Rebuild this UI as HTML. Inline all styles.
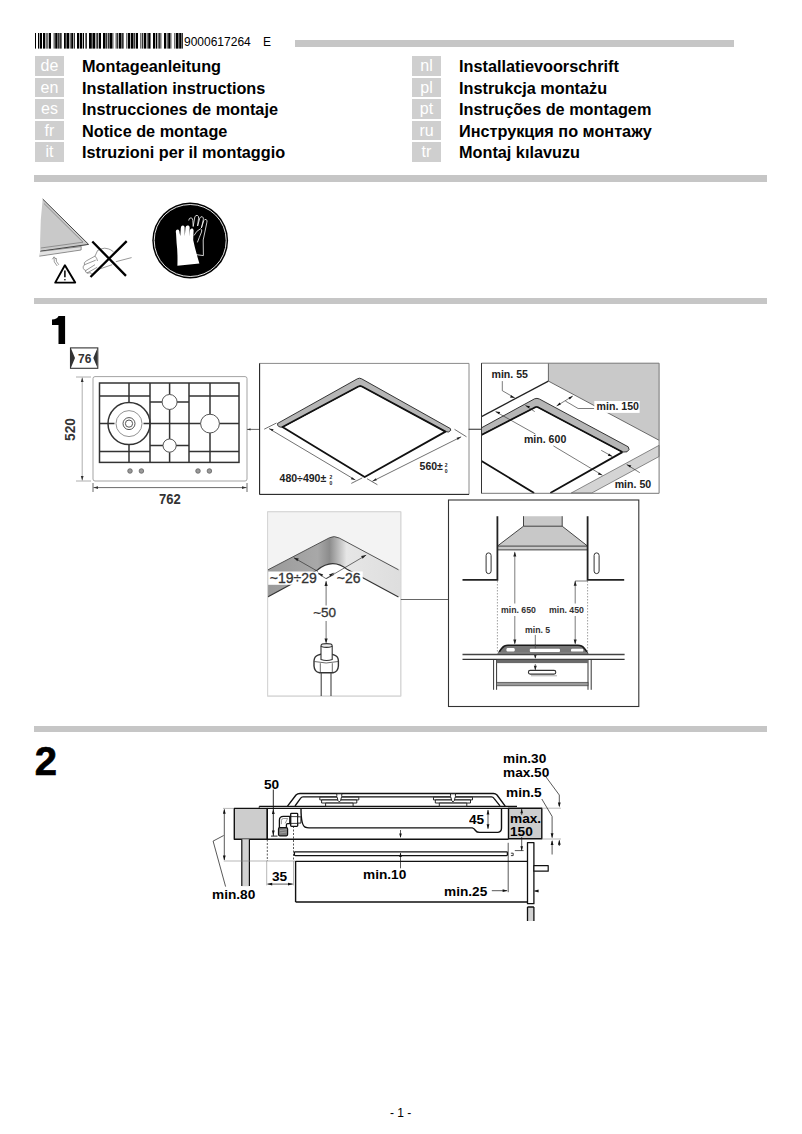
<!DOCTYPE html>
<html><head><meta charset="utf-8">
<style>
html,body{margin:0;padding:0;background:#fff;}
body{width:802px;height:1134px;position:relative;overflow:hidden;font-family:"Liberation Sans",sans-serif;color:#000;}
.a{position:absolute;white-space:nowrap;line-height:1;z-index:2;}
.rule{position:absolute;background:#c6c6c6;}
.lc{position:absolute;z-index:2;width:29px;height:19.5px;background:#cfcfcf;color:#fff;font-size:16px;line-height:19px;text-align:center;}
.lt{position:absolute;z-index:2;font-size:16.25px;font-weight:bold;line-height:1;white-space:nowrap;}
svg{position:absolute;left:0;top:0;}
.s2{font-size:13px;font-weight:bold;transform:scaleX(1.05);transform-origin:0 0;}
</style></head><body>
<div class="rule" style="left:295px;top:40px;width:439px;height:6.7px"></div>
<div class="a" style="left:184px;top:35.7px;font-size:12px">9000617264</div>
<div class="a" style="left:263px;top:35.7px;font-size:12px">E</div>

<div class="lc" style="left:35px;top:56px">de</div>
<div class="lc" style="left:35px;top:77.5px">en</div>
<div class="lc" style="left:35px;top:99px">es</div>
<div class="lc" style="left:35px;top:120.5px">fr</div>
<div class="lc" style="left:35px;top:142px">it</div>
<div class="lt" style="left:82px;top:58px">Montageanleitung</div>
<div class="lt" style="left:82px;top:79.5px">Installation instructions</div>
<div class="lt" style="left:82px;top:101px">Instrucciones de montaje</div>
<div class="lt" style="left:82px;top:122.5px">Notice de montage</div>
<div class="lt" style="left:82px;top:144px">Istruzioni per il montaggio</div>

<div class="lc" style="left:412px;top:56px">nl</div>
<div class="lc" style="left:412px;top:77.5px">pl</div>
<div class="lc" style="left:412px;top:99px">pt</div>
<div class="lc" style="left:412px;top:120.5px">ru</div>
<div class="lc" style="left:412px;top:142px">tr</div>
<div class="lt" style="left:459px;top:58px">Installatievoorschrift</div>
<div class="lt" style="left:459px;top:79.5px">Instrukcja montażu</div>
<div class="lt" style="left:459px;top:101px">Instruções de montagem</div>
<div class="lt" style="left:459px;top:122.5px">Инструкция по монтажу</div>
<div class="lt" style="left:459px;top:144px">Montaj kılavuzu</div>

<div class="rule" style="left:34px;top:175px;width:733px;height:6.6px"></div>
<div class="rule" style="left:34px;top:297.5px;width:733px;height:6.3px"></div>
<div class="rule" style="left:34px;top:726px;width:733px;height:6px"></div>


<div class="a" style="left:34.8px;top:741.3px;font-size:40px;font-weight:bold;-webkit-text-stroke:0.7px #000">2</div>
<div class="a" style="left:390px;top:1107px;font-size:12px">- 1 -</div>
<div class="a s2" style="left:264.3px;top:778px">50</div>
<div class="a s2" style="left:212px;top:887.5px">min.80</div>
<div class="a s2" style="left:272.4px;top:869.5px">35</div>
<div class="a s2" style="left:362.5px;top:868px">min.10</div>
<div class="a s2" style="left:444.2px;top:884.5px">min.25</div>
<div class="a s2" style="left:468.8px;top:813px">45</div>
<div class="a s2" style="left:509.5px;top:812.4px">max.</div>
<div class="a s2" style="left:509.5px;top:824.9px">150</div>
<div class="a s2" style="left:502.5px;top:752px">min.30</div>
<div class="a s2" style="left:502.5px;top:765.5px">max.50</div>
<div class="a s2" style="left:505.7px;top:786px">min.5</div>

<div class="a" style="left:269.8px;top:571.2px;font-size:14px;color:#333;-webkit-text-stroke:0.3px #333">~19÷29</div>
<div class="a" style="left:336.8px;top:571.2px;font-size:14px;color:#333;-webkit-text-stroke:0.3px #333">~26</div>
<div class="a" style="left:313.2px;top:606px;font-size:13.5px;color:#333;-webkit-text-stroke:0.3px #333">~50</div>
<div class="a" style="left:501px;top:605.1px;font-size:9.6px;font-weight:bold;color:#333;transform:scaleX(0.91);transform-origin:0 0">min. 650</div>
<div class="a" style="left:548.5px;top:605.1px;font-size:9.6px;font-weight:bold;color:#333;transform:scaleX(0.91);transform-origin:0 0">min. 450</div>
<div class="a" style="left:525.2px;top:625.3px;font-size:9.6px;font-weight:bold;color:#333;transform:scaleX(0.91);transform-origin:0 0">min. 5</div>
<div class="a" style="left:491.5px;top:369.3px;font-size:10.6px;font-weight:bold;color:#222">min. 55</div>
<div class="a" style="left:596.6px;top:401.3px;font-size:10.6px;font-weight:bold;color:#222">min. 150</div>
<div class="a" style="left:523.9px;top:433.5px;font-size:10.6px;font-weight:bold;color:#222">min. 600</div>
<div class="a" style="left:614.7px;top:479.1px;font-size:10.6px;font-weight:bold;color:#222">min. 50</div>
<div class="a" style="left:279.6px;top:473.2px;font-size:10.5px;font-weight:bold;color:#222">480÷490±</div>
<div class="a" style="left:329.5px;top:475.2px;font-size:5px;font-weight:bold;color:#222">2</div>
<div class="a" style="left:329.5px;top:481.2px;font-size:5px;font-weight:bold;color:#222">0</div>
<div class="a" style="left:419.6px;top:461.4px;font-size:10.5px;font-weight:bold;color:#222">560±</div>
<div class="a" style="left:444.8px;top:463.2px;font-size:5px;font-weight:bold;color:#222">2</div>
<div class="a" style="left:444.8px;top:469.2px;font-size:5px;font-weight:bold;color:#222">0</div>
<div class="a" style="left:78px;top:353px;font-size:12px;font-weight:bold;color:#333">76</div>
<div class="a" style="left:158.5px;top:492px;font-size:14px;font-weight:bold;color:#333;transform:scaleX(0.93);transform-origin:0 0">762</div>
<div class="a" style="left:63px;top:440.5px;font-size:14.5px;font-weight:bold;color:#333;transform:rotate(-90deg) scaleX(0.95);transform-origin:0 0">520</div>

<svg width="802" height="1134" viewBox="0 0 802 1134">
<!-- barcode -->
<g id="barcode" fill="#000"><rect x="35" y="33" width="1" height="15.6" opacity="1"/><rect x="38" y="33" width="1" height="15.6" opacity="1"/><rect x="39" y="33" width="1" height="15.6" opacity="0.3"/><rect x="40" y="33" width="2" height="15.6" opacity="1"/><rect x="43" y="33" width="2" height="15.6" opacity="1"/><rect x="45" y="33" width="1" height="15.6" opacity="0.3"/><rect x="46" y="33" width="2" height="15.6" opacity="0.55"/><rect x="48" y="33" width="1" height="15.6" opacity="0.3"/><rect x="49" y="33" width="2" height="15.6" opacity="1"/><rect x="53" y="33" width="1" height="15.6" opacity="0.3"/><rect x="54" y="33" width="1" height="15.6" opacity="0.55"/><rect x="55" y="33" width="1" height="15.6" opacity="0.8"/><rect x="56" y="33" width="1" height="15.6" opacity="1"/><rect x="57" y="33" width="1" height="15.6" opacity="0.55"/><rect x="58" y="33" width="1" height="15.6" opacity="0.8"/><rect x="59" y="33" width="1" height="15.6" opacity="0.55"/><rect x="60" y="33" width="1" height="15.6" opacity="0.8"/><rect x="61" y="33" width="1" height="15.6" opacity="0.55"/><rect x="64" y="33" width="1" height="15.6" opacity="1"/><rect x="65" y="33" width="1" height="15.6" opacity="0.8"/><rect x="66" y="33" width="1" height="15.6" opacity="0.55"/><rect x="67" y="33" width="2" height="15.6" opacity="1"/><rect x="69" y="33" width="1" height="15.6" opacity="0.3"/><rect x="70" y="33" width="1" height="15.6" opacity="0.55"/><rect x="71" y="33" width="1" height="15.6" opacity="0.8"/><rect x="72" y="33" width="1" height="15.6" opacity="1"/><rect x="73" y="33" width="1" height="15.6" opacity="0.3"/><rect x="74" y="33" width="1" height="15.6" opacity="0.8"/><rect x="77" y="33" width="2" height="15.6" opacity="1"/><rect x="79" y="33" width="1" height="15.6" opacity="0.3"/><rect x="80" y="33" width="2" height="15.6" opacity="1"/><rect x="82" y="33" width="1" height="15.6" opacity="0.3"/><rect x="83" y="33" width="1" height="15.6" opacity="1"/><rect x="85" y="33" width="1" height="15.6" opacity="0.55"/><rect x="86" y="33" width="1" height="15.6" opacity="0.8"/><rect x="89" y="33" width="2" height="15.6" opacity="1"/><rect x="91" y="33" width="1" height="15.6" opacity="0.8"/><rect x="92" y="33" width="1" height="15.6" opacity="0.55"/><rect x="93" y="33" width="2" height="15.6" opacity="1"/><rect x="95" y="33" width="1" height="15.6" opacity="0.3"/><rect x="96" y="33" width="1" height="15.6" opacity="0.55"/><rect x="97" y="33" width="1" height="15.6" opacity="0.8"/><rect x="98" y="33" width="1" height="15.6" opacity="0.3"/><rect x="99" y="33" width="2" height="15.6" opacity="1"/><rect x="103" y="33" width="2" height="15.6" opacity="1"/><rect x="105" y="33" width="1" height="15.6" opacity="0.55"/><rect x="106" y="33" width="1" height="15.6" opacity="0.8"/><rect x="107" y="33" width="1" height="15.6" opacity="0.3"/><rect x="108" y="33" width="1" height="15.6" opacity="0.8"/><rect x="109" y="33" width="1" height="15.6" opacity="0.55"/><rect x="110" y="33" width="2" height="15.6" opacity="1"/><rect x="112" y="33" width="1" height="15.6" opacity="0.55"/><rect x="113" y="33" width="1" height="15.6" opacity="0.3"/><rect x="115" y="33" width="1" height="15.6" opacity="0.3"/><rect x="116" y="33" width="1" height="15.6" opacity="0.55"/><rect x="117" y="33" width="1" height="15.6" opacity="0.8"/><rect x="118" y="33" width="1" height="15.6" opacity="0.3"/><rect x="119" y="33" width="2" height="15.6" opacity="1"/><rect x="121" y="33" width="1" height="15.6" opacity="0.55"/><rect x="122" y="33" width="1" height="15.6" opacity="0.8"/><rect x="123" y="33" width="1" height="15.6" opacity="0.55"/><rect x="126" y="33" width="1" height="15.6" opacity="0.55"/><rect x="127" y="33" width="1" height="15.6" opacity="0.3"/><rect x="128" y="33" width="2" height="15.6" opacity="1"/><rect x="130" y="33" width="1" height="15.6" opacity="0.3"/><rect x="131" y="33" width="2" height="15.6" opacity="1"/><rect x="133" y="33" width="1" height="15.6" opacity="0.55"/><rect x="134" y="33" width="1" height="15.6" opacity="0.8"/><rect x="135" y="33" width="1" height="15.6" opacity="0.3"/><rect x="136" y="33" width="2" height="15.6" opacity="1"/><rect x="140" y="33" width="1" height="15.6" opacity="0.55"/><rect x="141" y="33" width="1" height="15.6" opacity="0.3"/><rect x="142" y="33" width="1" height="15.6" opacity="0.8"/><rect x="143" y="33" width="1" height="15.6" opacity="0.3"/><rect x="144" y="33" width="2" height="15.6" opacity="1"/><rect x="146" y="33" width="1" height="15.6" opacity="0.3"/><rect x="147" y="33" width="1" height="15.6" opacity="0.55"/><rect x="148" y="33" width="1" height="15.6" opacity="0.8"/><rect x="149" y="33" width="1" height="15.6" opacity="1"/><rect x="150" y="33" width="1" height="15.6" opacity="0.55"/><rect x="153" y="33" width="2" height="15.6" opacity="1"/><rect x="155" y="33" width="1" height="15.6" opacity="0.3"/><rect x="156" y="33" width="1" height="15.6" opacity="1"/><rect x="157" y="33" width="1" height="15.6" opacity="0.3"/><rect x="158" y="33" width="1" height="15.6" opacity="0.55"/><rect x="159" y="33" width="1" height="15.6" opacity="0.8"/><rect x="160" y="33" width="1" height="15.6" opacity="0.55"/><rect x="161" y="33" width="1" height="15.6" opacity="0.3"/><rect x="164" y="33" width="2" height="15.6" opacity="1"/><rect x="166" y="33" width="1" height="15.6" opacity="0.3"/><rect x="167" y="33" width="1" height="15.6" opacity="0.55"/><rect x="168" y="33" width="1" height="15.6" opacity="0.8"/><rect x="169" y="33" width="1" height="15.6" opacity="1"/><rect x="170" y="33" width="1" height="15.6" opacity="0.55"/><rect x="171" y="33" width="1" height="15.6" opacity="0.3"/><rect x="174" y="33" width="1" height="15.6" opacity="0.55"/><rect x="175" y="33" width="1" height="15.6" opacity="0.3"/><rect x="176" y="33" width="2" height="15.6" opacity="1"/><rect x="178" y="33" width="1" height="15.6" opacity="0.55"/><rect x="179" y="33" width="1" height="15.6" opacity="0.8"/><rect x="180" y="33" width="1" height="15.6" opacity="1"/><rect x="181" y="33" width="1" height="15.6" opacity="0.55"/><rect x="182" y="33" width="1" height="15.6" opacity="0.8"/></g>

<!-- safety panel -->
<g id="safety">
<path d="M42.7,199 L88.6,244.4 L81.3,246.4 L81.1,250 L39.4,256.2 L40.2,251 Q39.5,225 42.7,199 Z" fill="#c9c9c9" stroke="none"/>
<path d="M42.7,199 L88.6,244.4 L40.6,251.2" fill="none" stroke="#333" stroke-width="0.9"/>
<path d="M44,203.5 L83,242.2 L40.8,248" fill="none" stroke="#666" stroke-width="0.6"/>
<path d="M40.2,251.4 L81.2,246.6 L81.1,250 L39.4,256.2" fill="#e2e2e2" stroke="#555" stroke-width="0.6"/>
<path d="M57.2,266 Q53,262 54,257.6 M52.3,259.3 L54.1,256.8 L56,259.1 M58.8,264.8 Q55.4,261.4 56.2,258" fill="none" stroke="#555" stroke-width="0.6"/>
<path d="M64.9,265.3 L55.2,282.6 L75.2,282.6 Z" fill="none" stroke="#000" stroke-width="1.9" stroke-linejoin="round"/>
<path d="M64.9,270.6 L64.9,277.2" stroke="#000" stroke-width="1.5"/>
<circle cx="64.9" cy="279.8" r="0.8" fill="#000"/>
<path d="M131.6,257.6 L115.9,261.7 M113.5,251.8 Q110.5,249.3 108.4,248.9 L104.7,248.2 Q100.5,248.6 97.6,250.5 L95,256.1 L86.5,260.8 Q83.3,262.6 84.4,264.8 Q82.3,267 83.4,268.6 Q83.9,270 85.8,270.5 Q84.8,272.3 87,273 Q88.5,273.4 90.4,272.6 Q90.8,274.5 93,274.2 L100.2,268.8 L112.2,264.7 M84.4,264.8 L95.7,260.2 M85.8,270.5 L95,264.7 M87,273 L97.2,267.3 M95,256.1 Q97,258 97.5,261" fill="none" stroke="#444" stroke-width="0.55"/>
<path d="M92.3,241.5 L126,275.9 M126.7,241.1 L90.5,277" stroke="#000" stroke-width="2.3"/>
<circle cx="190.2" cy="240.5" r="37.9" fill="#000"/>
<circle cx="190.2" cy="240.5" r="36" fill="none" stroke="#fff" stroke-width="0.9"/>
<path d="M176,233 Q175.2,229.8 177.7,229.6 Q179.5,229.8 179.6,233 L180.3,236 L180.8,228 Q181,225.4 183.2,225.6 Q185,226 184.6,228.5 L184.8,236 L185.5,227.5 Q186,225 188.4,225.6 Q190,226.3 189.6,228.8 L189.2,236.5 L189.9,230.2 Q190.6,227.8 192.6,228.6 Q194,229.5 193.5,232 L193.2,240 Q195,249 199.4,263.5 L177.4,265.7 Q177.8,252 176.6,243 Z" fill="#fff"/>
<path d="M188.7,220.5 Q189,217.8 191,217.8 Q192.8,218 192.8,220.5 L193.2,226.5 L194.8,217 Q195.6,214.8 197.6,215.5 Q199,216.3 198.5,218.6 L197.6,226 L199.8,218 Q200.7,216.2 202.4,216.8 Q203.8,217.6 203.3,219.8 L201.4,228 L203.8,220.6 Q204.8,218.8 206.3,219.6 Q207.6,220.6 206.8,222.8 L203.2,240 L203.4,255.6 L195.8,254.6 M194,235.5 Q196.5,230.5 200.5,228.8 Q202.5,229.4 201.5,232 Q199,238 197.4,242.4" fill="none" stroke="#fff" stroke-width="0.8" stroke-linejoin="round"/>
</g>


<!-- 76 badge -->
<path d="M58.5,316 H65.1 V344 H58.5 V325 H52 V319.6 Q57.2,319.4 58.5,316 Z" fill="#000"/>
<g id="badge">
<rect x="70.5" y="347.9" width="27.3" height="20.4" fill="#fff" stroke="#333" stroke-width="1.1"/>
<path d="M71,348.6 L75,358.1 L71,367.6 Z M97.3,348.6 L93.3,358.1 L97.3,367.6 Z" fill="#333"/>
</g>
<!-- hob top view -->
<g id="hob" fill="none">
<rect x="93" y="376.6" width="154" height="104.4" rx="2" stroke="#999" stroke-width="0.9"/>
<g stroke="#333" stroke-width="1.5">
<rect x="99.5" y="383" width="139.5" height="79.4"/>
<path d="M150,383 V462.4 M189,383 V462.4"/>
<path d="M99.5,396 H150 M189,396 H239 M99.5,451.6 H150 M189,451.6 H239"/>
<path d="M129,383 V402.6 M129,444.6 V462.4 M210,383 V414.2 M210,433 V462.4"/>
<path d="M99.5,423.6 H114.5 M143.5,423.6 H200.6 M219.4,423.6 H239"/>
<path d="M150,402 H162 M177,402 H189 M150,445.6 H163 M176,445.6 H189"/>
<path d="M169.6,383 V394.5 M169.6,409.5 V439 M169.6,452.2 V462.4"/>
<circle cx="129" cy="423.6" r="21"/>
</g>
<g stroke="#555" stroke-width="1">
<circle cx="169.6" cy="402" r="7.5"/>
<circle cx="169.6" cy="445.6" r="6.6"/>
<circle cx="210" cy="423.6" r="9.4"/>
<circle cx="129" cy="423.6" r="6"/>
<circle cx="129" cy="423.6" r="3.6"/>
</g>
<circle cx="129" cy="423.6" r="13" stroke="#888" stroke-width="0.9"/>
<g fill="#999" stroke="#555" stroke-width="0.7">
<circle cx="130" cy="471" r="2.3"/><circle cx="141.4" cy="471" r="2.3"/>
<circle cx="198" cy="471" r="2.3"/><circle cx="209.4" cy="471" r="2.3"/>
</g>
<!-- dims -->
<g stroke="#444" stroke-width="0.8">
<path d="M76,377 H91 M76,481 H91 M82.2,377.5 V480.5" stroke="#999"/>
<path d="M93,483 V492 M247,483 V492 M93.5,487.6 H246.5"/>
<path d="M247,429.4 H259.2"/>
</g>
<g fill="#333">
<path d="M82.2,377.5 L80.8,382 L83.6,382 Z M82.2,480.5 L80.8,476 L83.6,476 Z"/>
<path d="M93.5,487.6 L98,486.2 L98,489 Z M246.5,487.6 L242,486.2 L242,489 Z"/>
<path d="M247.5,429.4 L250.5,428.2 L250.5,430.6 Z"/>
</g>
</g>


<!-- box2 cutout -->
<g id="box2" fill="none">
<path d="M259.6,494.4 V363.4 H469 V494.4 Z" stroke="#8a8a8a" stroke-width="1"/>
<path d="M259.6,363.4 V494.4 H469" stroke="#222" stroke-width="1"/>
<path d="M277.6,423.4 L357.4,378.8 Q359.5,377.6 361.6,378.8 L450.4,428.6 Q452,430.5 448.5,432 L445.5,431.6 L360.2,385.6 L282.7,427.2 Q277,427.5 277.6,423.4 Z" fill="#b6b6b6" stroke="#222" stroke-width="0.9"/>
<path d="M282.5,427 L358.4,386.5 Q360.2,385.6 362,386.5 L445.5,431.6 L364.7,477 Z" stroke="#111" stroke-width="1.8" stroke-linejoin="round"/>
<g stroke="#333" stroke-width="0.7">
<path d="M264.2,429.2 L276.5,423 M351.3,483.4 L362.3,477.9 M269,428.6 L355.4,480"/>
<path d="M367,478.7 L377.4,484.7 M454.5,429.3 L466.5,436.8 M372.4,481.3 L461.2,436.8"/>
<path d="M469,429.3 H481"/>
</g>
<g fill="#222">
<path d="M269,428.6 L273.6,429.3 L272.4,431.3 Z M355.4,480 L350.8,479.3 L352,477.3 Z"/>
<path d="M372.4,481.3 L375.8,478.2 L376.9,480.3 Z M461.2,436.8 L457.7,439.9 L456.6,437.8 Z"/>
</g>
</g>


<!-- box3 distances -->
<g id="box3" fill="none">
<path d="M548.4,363.2 H659.1 V440.3 L548.4,381.1 Z" fill="#c9c9c9"/>
<path d="M659.1,445.3 L571.2,493 L591.8,493 L659.1,456.5 Z" fill="#d4d4d4" stroke="#444" stroke-width="0.6"/>
<path d="M548.4,363.2 V381.1 L659.1,440.3" stroke="#333" stroke-width="0.7"/>
<path d="M481.5,416.6 L548.4,381.1" stroke="#222" stroke-width="1.2"/>
<path d="M481.5,427.8 L534.6,398.8 Q537,397.8 539.4,399 L628.2,446.8 Q630.5,449.8 627,451.8 L622.4,452.1 L536.6,406.6 L481.5,434.7 Z" fill="#b6b6b6" stroke="#222" stroke-width="0.9"/>
<path d="M481.5,434.9 L534.8,407.4 Q536.6,406.6 538.4,407.4 L622.4,452.1" stroke="#111" stroke-width="1.7"/>
<path d="M481.5,460.9 L534.1,493 M550.3,493 L622.4,452.1" stroke="#111" stroke-width="1.8"/>
<g stroke="#222" stroke-width="0.6">
<path d="M502.3,381.1 V390.7 L514.8,397.9"/>
<path d="M495.5,411.6 L535.4,434 M553.4,445.9 L602.4,475.2"/>
<path d="M525.4,405.4 L534.7,411.6 M601.2,450.3 L612.4,456.5"/>
<path d="M556.6,406 L572.8,396 M565.3,401 L578.1,408.5 H594.3"/>
<path d="M639.8,472.7 L626.7,464.6"/>
</g>
<g fill="#111">
<path d="M514.8,397.9 L510,397.4 L511.2,395.2 Z"/>
<path d="M495.5,411.6 L500.2,412 L499,414.2 Z"/>
<path d="M525.4,405.4 L530,406.2 L528.7,408.3 Z"/>
<path d="M612.4,456.5 L607.8,455.8 L609,453.6 Z"/>
<path d="M602.4,475.2 L597.8,474.6 L599,472.4 Z"/>
<path d="M556.6,406 L559.6,402.5 L560.9,404.6 Z M572.8,396 L569.8,399.5 L568.5,397.4 Z"/>
<path d="M626.7,464.6 L631.3,465.5 L630,467.6 Z"/>
</g>
<rect x="594.3" y="401" width="45.3" height="11.9" fill="#fff"/>
<path d="M481.5,493.3 V363.2 H659.1 V493.3 Z" stroke="#777" stroke-width="1"/>
<path d="M481.5,363.2 V493.3" stroke="#333" stroke-width="1"/>
<path d="M468.5,429.3 H481.5" stroke="#444" stroke-width="0.8"/>
</g>


<!-- box4 corner -->
<defs>
<linearGradient id="g4" x1="268" y1="0" x2="399" y2="0" gradientUnits="userSpaceOnUse">
<stop offset="0" stop-color="#9a9a9a"/><stop offset="0.38" stop-color="#a8a8a8"/>
<stop offset="0.47" stop-color="#8c8c8c"/><stop offset="0.6" stop-color="#e6e6e6"/><stop offset="1" stop-color="#dedede"/>
</linearGradient>
</defs>
<g id="box4" fill="none">
<rect x="267.6" y="511.8" width="133.2" height="184.3" fill="#fff" stroke="#d6d6d6" stroke-width="1"/>
<path d="M268,512.3 H400.3 V570 L339.2,538 Q334,535.4 329.6,537.7 L268,570 Z" fill="#f3f3f3"/>
<path d="M267.6,570 L329.6,537.7 Q334,535.4 339.2,538 L400.8,570 V597.5 L347.5,569.6 Q332.5,557.5 317.4,570 L267.6,597 Z" fill="url(#g4)"/>
<path d="M267.6,570 L329.6,537.7 Q334,535.4 339.2,538 L398.5,569.8" stroke="#444" stroke-width="0.9"/>
<path d="M267.6,597 L317.4,570 Q332.5,557.5 347.5,569.6 L398.5,597" stroke="#333" stroke-width="1.2"/>
<path d="M267.6,511.8 V696.1 H400.8 V511.8 Z" stroke="#d6d6d6" stroke-width="1"/>
<rect x="268.2" y="571.5" width="49.2" height="13.3" fill="#fff"/>
<rect x="334.8" y="571.5" width="27.9" height="11.5" fill="#fff"/>
<g stroke="#333" stroke-width="0.7">
<path d="M293.8,557.7 L318,571.5 M326.1,578.5 L334,574.5 M326.1,578.7 L366.2,555.1 M326.1,581.3 V605.5 M326.1,621 V642.4 M318,573.5 L326.1,578.7"/>
</g>
<g fill="#222">
<path d="M293.8,557.7 L298.8,558.6 L297.3,561.2 Z M366.2,555.1 L362.6,558.7 L361.1,556.1 Z"/>
<path d="M326.1,580.8 L324.5,586 L327.7,586 Z M326.1,643.5 L324.5,638.5 L327.7,638.5 Z"/>
<path d="M317.6,572.5 L323.2,574.6 L321.8,576.6 Z M334.6,572.5 L329,574.6 L330.4,576.6 Z"/>
</g>
<g stroke="#444" stroke-width="0.9">
<path d="M314,661 Q314.3,656.5 318,655.2 L321.5,654 H331 L334.5,655.2 Q338.3,656.5 338.4,661 V666 Q338,671.8 333,672.8 H319.5 Q314.4,671.8 314,666 Z" fill="#fff" stroke="#333" stroke-width="1.4"/>
<path d="M314.3,661.5 Q326,664.5 338.2,661.5 M320.3,663.2 V672.4 M332.3,663.2 V672.4" stroke="#444" stroke-width="0.8"/>
<path d="M321,646 V659.5 Q326.6,661.5 332.2,659.5 V646" fill="#fff" stroke="#333" stroke-width="1.1"/>
<ellipse cx="326.6" cy="645.5" rx="5.6" ry="1.9" fill="#eee" stroke="#333" stroke-width="1.1"/>
<path d="M321.2,673 V696 M331,673 V696" stroke-width="1.1"/>
</g>
<path d="M400.8,599.5 H448.5" stroke="#555" stroke-width="0.9"/>
</g>
<!-- box5 hood -->
<g id="box5" fill="none">
<rect x="448.5" y="500" width="190.3" height="206.5" stroke="#333" stroke-width="1.1"/>
<path d="M523.5,516.2 H562.2 V526.2 L587.6,546.1 V549.9 H497.4 V546.1 L523.5,526.2 Z" fill="#c8c8c8"/>
<path d="M523.5,516.2 V526.2 H562.2 V516.2 M523.5,526.2 L497.4,546.1 H587.6 L562.2,526.2 M497.4,549.9 H587.6" stroke="#333" stroke-width="0.9"/>
<path d="M497.4,516.2 V579.8 H462.5 M587.6,516.2 V579.8 H624.2" stroke="#222" stroke-width="1.8"/>
<rect x="486.1" y="552.9" width="5" height="20.7" rx="2.5" stroke="#333" stroke-width="1"/>
<rect x="594.1" y="552.9" width="5" height="20.7" rx="2.5" stroke="#333" stroke-width="1"/>
<path d="M497.4,581 V651.8 M587.6,581 V651.8" stroke="#777" stroke-width="0.7" stroke-dasharray="1.5,1.5"/>
<g stroke="#444" stroke-width="0.7">
<path d="M514.8,552.4 V603.5 M514.8,616 V643.6 M575.2,581 V603.5 M575.2,616 V643.6 M575.2,581 H587.6 M535.3,634.9 V658 M535.3,664 V670"/>
</g>
<g fill="#222">
<path d="M514.8,551.5 L513.3,556.5 L516.3,556.5 Z M514.8,644.5 L513.3,639.5 L516.3,639.5 Z"/>
<path d="M575.2,580.8 L573.7,585.8 L576.7,585.8 Z M575.2,644.5 L573.7,639.5 L576.7,639.5 Z"/>
<path d="M535.3,670.3 L533.8,665.8 L536.8,665.8 Z M535.3,658.8 L533.8,654.3 L536.8,654.3 Z"/>
</g>
<path d="M498.6,653 Q501.5,647.6 504.5,646 Q506,645.3 508,645.3 H578 Q580,645.3 581.5,646 Q584.6,647.6 587.4,653 Z" fill="#777" stroke="#1a1a1a" stroke-width="1.5"/>
<path d="M535.3,644.5 V652.5" stroke="#444" stroke-width="0.7"/>
<g fill="#fff"><rect x="506.5" y="648" width="8.2" height="3.5" rx="1.2"/><rect x="529.8" y="648.7" width="30.2" height="3.4" rx="1"/><rect x="571" y="648.7" width="12.3" height="2.9" rx="1.2"/></g>
<rect x="498.2" y="652.1" width="89.2" height="2.1" fill="#8a8a8a"/>
<path d="M462.5,654.6 H624.6" stroke="#444" stroke-width="1.5"/>
<path d="M462.5,659.3 H624.6" stroke="#333" stroke-width="1.2"/>
<path d="M493.6,659.3 V689.8 M496.6,659.3 V689.8 M588,659.3 V689.8 M591.2,659.3 V689.8" stroke="#333" stroke-width="1"/>
<rect x="496.6" y="659.7" width="91.4" height="3.4" fill="#6a6a6a"/>
<rect x="496.6" y="682.3" width="91.4" height="3.5" fill="#9a9a9a" stroke="#444" stroke-width="0.7"/>
<rect x="528.4" y="670.4" width="27.4" height="3.7" rx="1.8" fill="#fff" stroke="#333" stroke-width="1.1"/>
<path d="M531,675.7 H557" stroke="#c4c4c4" stroke-width="1.4"/>
</g>


<!-- section 2 cross-section -->
<g id="sec2" fill="none" stroke-linejoin="round">
<rect x="234.3" y="808.4" width="33" height="30.8" fill="#cdcdcd" stroke="#111" stroke-width="1.4"/>
<rect x="241.8" y="839.2" width="7.6" height="47" fill="#d2d2d2" stroke="none"/>
<path d="M241.8,839.2 V886 M249.4,839.2 V886" stroke="#111" stroke-width="1.2"/>
<rect x="508.5" y="808.2" width="33.3" height="30.5" fill="#cdcdcd" stroke="#111" stroke-width="1.4"/>
<g stroke="#888" stroke-width="0.6">
<path d="M223,808.4 H234 M223.7,861 H295.4 M541.8,808.2 H561 M541.8,839 H561"/>
<path d="M266.7,861 V885.4 M293.5,861 V885.4"/>
</g>
<g stroke="#111" stroke-width="0.7">
<path d="M224.3,809.5 V860"/>
<path d="M223.7,835.5 L213.1,841.1 L225.6,886.6"/>
<path d="M267.3,839.5 V861 M293.5,826 V861" stroke-dasharray="2,1.5"/>
<path d="M267.5,884.1 H292.7"/>
<path d="M273.3,789.5 V836.1 M271,836.1 H277.5" stroke-width="0.9"/>
<path d="M488,810 V828.6"/>
<path d="M400.5,830 V837 M400.5,853 V868.3"/>
<path d="M508.2,842.8 V892.2 M491.8,890.7 H507"/>
<path d="M521.7,809 V814.8 M521.7,837 V850.6 M514.8,850.6 H523.6"/>
<path d="M545.8,776.7 L559.3,795 V806 M541.8,799 L552.1,816.4 V837.5"/>
<path d="M552.1,841 V854.5 M559.3,840.5 V846"/>
<path d="M538.7,891 H534.5"/>
</g>
<g fill="#111">
<path d="M224.3,808.8 L222.9,813.8 L225.7,813.8 Z M224.3,860.6 L222.9,855.6 L225.7,855.6 Z"/>
<path d="M267.2,884.1 L272.2,882.7 L272.2,885.5 Z M293,884.1 L288,882.7 L288,885.5 Z"/>
<path d="M273.3,809 L271.9,814 L274.7,814 Z M273.3,835.6 L271.9,830.6 L274.7,830.6 Z"/>
<path d="M488,809.4 L486.6,814.4 L489.4,814.4 Z M488,829.2 L486.6,824.2 L489.4,824.2 Z"/>
<path d="M400.5,838 L399.2,833.5 L401.8,833.5 Z M400.5,852.4 L399.2,856.9 L401.8,856.9 Z"/>
<path d="M507.6,890.7 L502.6,889.3 L502.6,892.1 Z"/>
<path d="M521.7,808.8 L520.4,813.3 L523,813.3 Z M521.7,850.8 L520.4,846.3 L523,846.3 Z"/>
<path d="M559.3,807.6 L557.9,802.6 L560.7,802.6 Z M552.1,838.3 L550.7,833.3 L553.5,833.3 Z"/>
<path d="M552.1,840 L550.7,845 L553.5,845 Z M559.3,839.8 L557.9,844.8 L560.7,844.8 Z"/>
<path d="M534,891 L538.5,889.6 L538.5,892.4 Z"/>
</g>
<!-- hob -->
<path d="M259.2,806.4 H517 M267.3,808.4 H508.5" stroke="#111" stroke-width="1.3"/>
<path d="M259.2,806.4 V808.4" stroke="#111" stroke-width="0.8"/>
<path d="M287.5,806.2 L296,795 Q297.5,793.5 300,793.5 H493.5 Q495.5,793.5 497,795 L505.2,806.2" stroke="#111" stroke-width="1.4"/>
<path d="M295,806 L300.5,798.3 Q301.5,796.8 303,796.8 H491.5 Q493,796.8 494,798.3 L500,805.8" stroke="#111" stroke-width="1.3"/>
<g transform="translate(0,0)" stroke="#111" fill="#fff"><rect x="319.8" y="797.2" width="39" height="2.7" stroke-width="0.9"/><rect x="321.6" y="800" width="35.2" height="3" stroke-width="0.9"/><rect x="325.6" y="803.1" width="27.5" height="3.1" stroke-width="0.9"/><path d="M336.7,793.8 Q337,797.5 338,800.6 Q339.3,803.2 340.6,800.6 Q341.6,797.5 341.9,793.8 Z" stroke-width="0.9"/><path d="M337.2,796.2 H341.4" stroke="#fff" stroke-width="1.2"/></g>
<g transform="translate(113.7,0)" stroke="#111" fill="#fff"><rect x="319.8" y="797.2" width="39" height="2.7" stroke-width="0.9"/><rect x="321.6" y="800" width="35.2" height="3" stroke-width="0.9"/><rect x="325.6" y="803.1" width="27.5" height="3.1" stroke-width="0.9"/><path d="M336.7,793.8 Q337,797.5 338,800.6 Q339.3,803.2 340.6,800.6 Q341.6,797.5 341.9,793.8 Z" stroke-width="0.9"/><path d="M337.2,796.2 H341.4" stroke="#fff" stroke-width="1.2"/></g>
<path d="M301,808.6 Q301,826 305.4,827.2 Q306.5,827.9 309,827.9 H472.3 Q474,828.2 475.5,830.5 Q476.8,832.4 479.5,832.4 H498 Q501.5,832 501.5,828 V808.6" stroke="#111" stroke-width="1.4"/>
<path d="M267.3,808.4 V839.2 H508.5" stroke="#111" stroke-width="1.4"/>
<!-- connector -->
<path d="M279.4,827.8 V820.2 Q279.4,816.3 283.4,816.3 H289.8 V823.6 H287.6 Q286.4,823.6 286.4,825 V827.8" stroke="#111" stroke-width="1.3" fill="#fff"/>
<path d="M281.4,824.2 V820.6 Q281.4,818.5 283.6,818.5 H287.6 L285.2,823.4" stroke="#333" stroke-width="0.5"/>
<rect x="278.5" y="827.7" width="9.1" height="8.1" rx="1.2" fill="#7a7a7a" stroke="#111" stroke-width="1.2"/>
<path d="M279.8,830.6 L286.6,829.6 M279.8,833 L286.6,832" stroke="#bbb" stroke-width="0.6"/>
<rect x="290.7" y="813.3" width="7" height="13" rx="0.8" fill="#fff" stroke="#111" stroke-width="1.3"/>
<path d="M290.7,816.6 H297.7 M290.7,823.4 H297.7" stroke="#111" stroke-width="0.8"/>
<rect x="297.7" y="816.8" width="3.2" height="6.3" fill="#fff" stroke="#111" stroke-width="0.9"/>
<!-- rail & cabinet -->
<rect x="294.4" y="851.9" width="213" height="3.7" rx="0.8" stroke="#111" stroke-width="1.3"/>
<path d="M510.9,853.2 H513.2 V855.6 H510.9" stroke="#111" stroke-width="0.8"/>
<path d="M295.6,861.4 H527.5 M295.6,861 V902 M295.6,902 H527.5" stroke="#111" stroke-width="1.4"/>
<rect x="527.5" y="842.6" width="6.4" height="61.1" fill="#fff" stroke="#111" stroke-width="1.3"/>
<rect x="527.5" y="907" width="6.4" height="14" fill="#d2d2d2" stroke="none"/>
<path d="M527.5,907 V921 M533.9,907 V921 M527.5,907 H533.9" stroke="#111" stroke-width="1.3"/>
<rect x="533.9" y="865.6" width="14.3" height="5.6" fill="#fff" stroke="#111" stroke-width="1.2"/>
</g>

</svg>
</body></html>
